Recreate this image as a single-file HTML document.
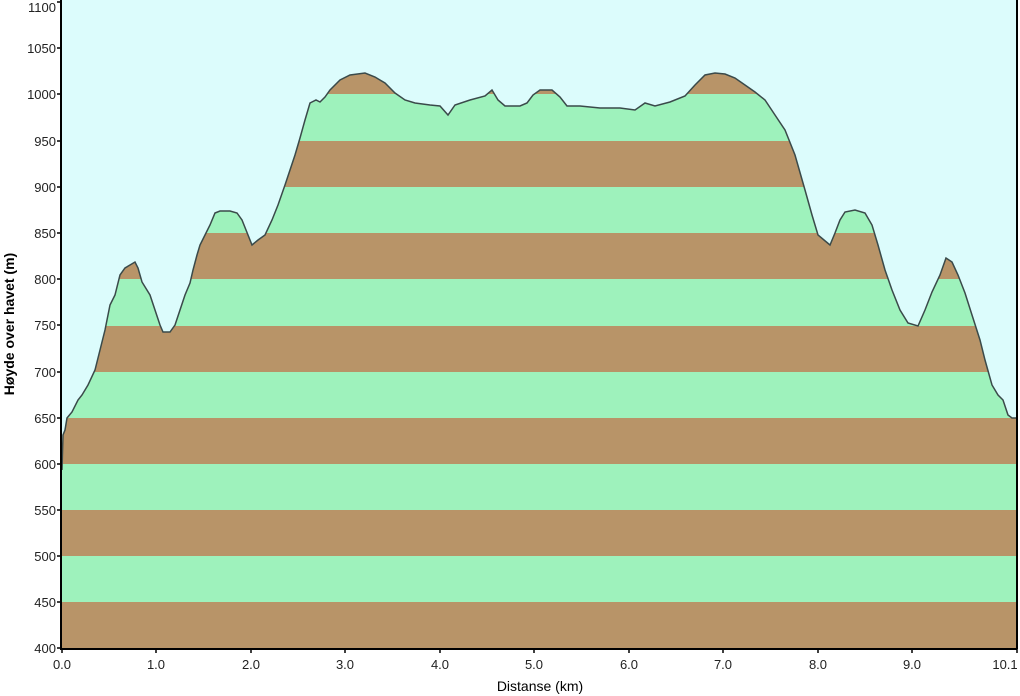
<!DOCTYPE html>
<html><head><style>body{margin:0;background:#fff}svg{display:block}text{font-family:"Liberation Sans",sans-serif;font-size:13px;fill:#222}</style></head><body>
<svg width="1020" height="696" viewBox="0 0 1020 696">
<defs><clipPath id="c"><polygon id="pp" points="62,648 62,470 63,435 65,430 67,418 72,412 78,400 82,395 88,385 95,370 100,350 105,330 110,305 115,295 120,275 125,268 130,265 135,262 138,268 142,282 150,295 155,310 160,325 163,332 170,332 175,325 180,310 185,295 190,283 193,270 197,255 200,245 205,235 210,225 215,213 220,211 230,211 237,213 242,220 248,235 252,245 258,240 265,235 272,220 278,205 285,185 290,170 295,155 300,138 305,120 310,103 316,100 320,102 325,97 330,90 340,80 350,75 365,73 375,77 385,83 395,93 405,100 415,103 430,105 440,106 448,115 455,105 470,100 485,96 492,90 498,100 505,106 520,106 527,103 533,95 540,90 552,90 560,97 567,106 580,106 600,108 620,108 635,110 645,103 655,106 670,102 685,96 695,85 705,75 715,73 725,74 735,78 745,85 755,92 765,100 775,115 785,130 795,155 805,190 812,215 818,235 824,240 830,245 835,233 840,220 845,212 855,210 865,213 872,225 878,245 885,270 892,290 900,310 908,323 918,326 925,310 932,292 940,275 946,258 952,262 958,275 965,293 972,315 980,340 985,360 992,385 998,395 1003,400 1008,415 1012,418 1017,418 1017,648"/></clipPath></defs>
<rect x="62" y="0" width="955" height="648" fill="#dcfcfc"/>
<g clip-path="url(#c)">
<rect x="62" y="0" width="955" height="648" fill="#9ef2bc"/>
<g fill="#b89468">
<rect x="62" y="602" width="955" height="46"/>
<rect x="62" y="510" width="955" height="46"/>
<rect x="62" y="418" width="955" height="46"/>
<rect x="62" y="326" width="955" height="46"/>
<rect x="62" y="233" width="955" height="46"/>
<rect x="62" y="141" width="955" height="46"/>
<rect x="62" y="48" width="955" height="46"/>
</g></g>
<polyline points="62,470 63,435 65,430 67,418 72,412 78,400 82,395 88,385 95,370 100,350 105,330 110,305 115,295 120,275 125,268 130,265 135,262 138,268 142,282 150,295 155,310 160,325 163,332 170,332 175,325 180,310 185,295 190,283 193,270 197,255 200,245 205,235 210,225 215,213 220,211 230,211 237,213 242,220 248,235 252,245 258,240 265,235 272,220 278,205 285,185 290,170 295,155 300,138 305,120 310,103 316,100 320,102 325,97 330,90 340,80 350,75 365,73 375,77 385,83 395,93 405,100 415,103 430,105 440,106 448,115 455,105 470,100 485,96 492,90 498,100 505,106 520,106 527,103 533,95 540,90 552,90 560,97 567,106 580,106 600,108 620,108 635,110 645,103 655,106 670,102 685,96 695,85 705,75 715,73 725,74 735,78 745,85 755,92 765,100 775,115 785,130 795,155 805,190 812,215 818,235 824,240 830,245 835,233 840,220 845,212 855,210 865,213 872,225 878,245 885,270 892,290 900,310 908,323 918,326 925,310 932,292 940,275 946,258 952,262 958,275 965,293 972,315 980,340 985,360 992,385 998,395 1003,400 1008,415 1012,418 1017,418" fill="none" stroke="#3a4a4a" stroke-width="1.5"/>
<path d="M61,0V649H1017M1017,0V649" stroke="#000" stroke-width="2" fill="none"/>
<g stroke="#000" stroke-width="1.5">
<path d="M57,648h4M57,602h4M57,556h4M57,510h4M57,464h4M57,418h4M57,372h4M57,325h4M57,279h4M57,233h4M57,187h4M57,141h4M57,94h4M57,48h4M57,2h4"/>
<path d="M62,649v4M156,649v4M251,649v4M345,649v4M440,649v4M534,649v4M629,649v4M723,649v4M818,649v4M912,649v4M1017,649v4"/>
</g>
<g text-anchor="end">
<text x="56" y="653">400</text><text x="56" y="607">450</text><text x="56" y="561">500</text><text x="56" y="515">550</text><text x="56" y="469">600</text><text x="56" y="423">650</text><text x="56" y="377">700</text><text x="56" y="330">750</text><text x="56" y="284">800</text><text x="56" y="238">850</text><text x="56" y="192">900</text><text x="56" y="146">950</text><text x="56" y="99">1000</text><text x="56" y="53">1050</text><text x="56" y="12">1100</text>
</g>
<g text-anchor="middle">
<text x="62" y="669">0.0</text><text x="156" y="669">1.0</text><text x="251" y="669">2.0</text><text x="345" y="669">3.0</text><text x="440" y="669">4.0</text><text x="534" y="669">5.0</text><text x="629" y="669">6.0</text><text x="723" y="669">7.0</text><text x="818" y="669">8.0</text><text x="912" y="669">9.0</text><text x="1005" y="669">10.1</text>
<text x="540" y="691" style="font-size:14px;fill:#000">Distanse   (km)</text>
</g>
<text transform="translate(14,324) rotate(-90)" text-anchor="middle" style="font-size:14px;font-weight:bold;fill:#000">Høyde over havet (m)</text>
</svg>
</body></html>
